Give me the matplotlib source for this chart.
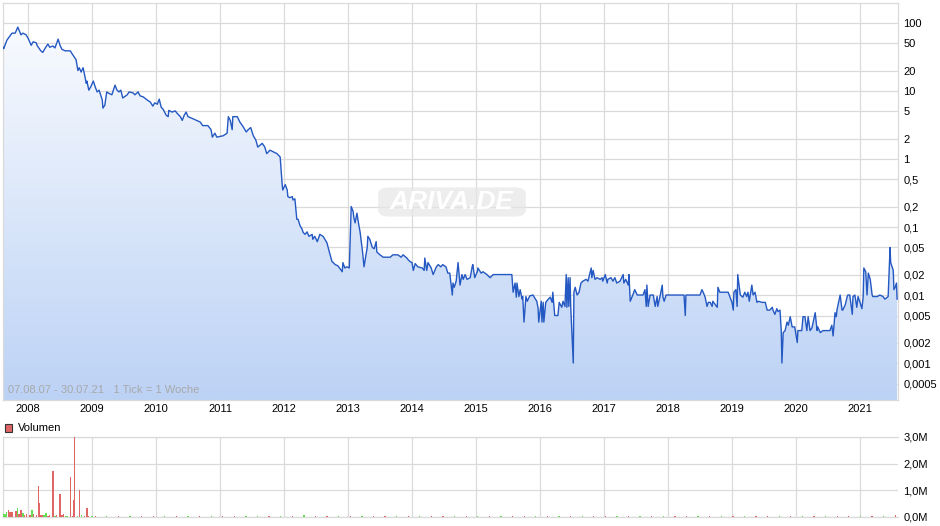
import numpy as np
import matplotlib
matplotlib.use("Agg")
import matplotlib.pyplot as plt
from matplotlib.patches import FancyBboxPatch, Rectangle

plt.rcParams['font.family'] = ['Liberation Sans', 'DejaVu Sans']

# weekly close, dates as decimal years
dates = [
    2007.61, 2007.62, 2007.67, 2007.75, 2007.80, 2007.84, 2007.89, 2007.92, 2007.97, 2008.00,
    2008.05, 2008.08, 2008.13, 2008.14, 2008.20, 2008.23, 2008.27, 2008.31, 2008.34, 2008.39,
    2008.42, 2008.45, 2008.47, 2008.50, 2008.53, 2008.58, 2008.66, 2008.70, 2008.75, 2008.78,
    2008.80, 2008.83, 2008.86, 2008.88, 2008.91, 2008.92, 2008.95, 2008.98, 2009.02, 2009.05,
    2009.08, 2009.11, 2009.16, 2009.17, 2009.20, 2009.23, 2009.25, 2009.31, 2009.36, 2009.39,
    2009.42, 2009.45, 2009.48, 2009.55, 2009.58, 2009.64, 2009.67, 2009.72, 2009.75, 2009.80,
    2009.86, 2009.91, 2009.95, 2009.98, 2010.02, 2010.05, 2010.08, 2010.11, 2010.16, 2010.19,
    2010.20, 2010.25, 2010.30, 2010.33, 2010.38, 2010.41, 2010.44, 2010.47, 2010.50, 2010.58,
    2010.69, 2010.73, 2010.81, 2010.86, 2010.88, 2010.92, 2010.95, 2011.05, 2011.11, 2011.13,
    2011.16, 2011.19, 2011.20, 2011.27, 2011.31, 2011.36, 2011.41, 2011.44, 2011.48, 2011.52,
    2011.56, 2011.59, 2011.66, 2011.70, 2011.73, 2011.78, 2011.89, 2011.94, 2011.97, 2011.98,
    2012.02, 2012.05, 2012.06, 2012.09, 2012.13, 2012.14, 2012.17, 2012.20, 2012.22, 2012.25,
    2012.28, 2012.30, 2012.33, 2012.36, 2012.39, 2012.44, 2012.45, 2012.48, 2012.52, 2012.56,
    2012.61, 2012.67, 2012.70, 2012.75, 2012.77, 2012.80, 2012.84, 2012.91, 2012.92, 2012.95,
    2012.98, 2013.02, 2013.05, 2013.08, 2013.09, 2013.11, 2013.14, 2013.16, 2013.19, 2013.23,
    2013.25, 2013.30, 2013.31, 2013.34, 2013.38, 2013.41, 2013.44, 2013.45, 2013.50, 2013.55,
    2013.66, 2013.70, 2013.78, 2013.83, 2013.86, 2013.92, 2013.94, 2013.97, 2014.00, 2014.02,
    2014.05, 2014.09, 2014.16, 2014.19, 2014.20, 2014.23, 2014.25, 2014.30, 2014.33, 2014.38,
    2014.41, 2014.45, 2014.48, 2014.53, 2014.56, 2014.59, 2014.63, 2014.64, 2014.66, 2014.69,
    2014.72, 2014.75, 2014.78, 2014.80, 2014.83, 2014.86, 2014.91, 2014.94, 2014.95, 2014.98,
    2015.02, 2015.03, 2015.08, 2015.11, 2015.17, 2015.22, 2015.27, 2015.38, 2015.45, 2015.50,
    2015.56, 2015.58, 2015.61, 2015.63, 2015.64, 2015.67, 2015.69, 2015.72, 2015.73, 2015.75,
    2015.78, 2015.80, 2015.84, 2015.89, 2015.95, 2015.97, 2015.98, 2016.02, 2016.03, 2016.05,
    2016.06, 2016.09, 2016.13, 2016.16, 2016.19, 2016.20, 2016.23, 2016.28, 2016.30, 2016.34,
    2016.36, 2016.39, 2016.41, 2016.42, 2016.44, 2016.45, 2016.47, 2016.48, 2016.52, 2016.53,
    2016.55, 2016.58, 2016.61, 2016.64, 2016.67, 2016.72, 2016.75, 2016.80, 2016.81, 2016.83,
    2016.86, 2016.89, 2016.94, 2016.97, 2016.98, 2017.02, 2017.05, 2017.06, 2017.11, 2017.14,
    2017.17, 2017.20, 2017.25, 2017.30, 2017.31, 2017.34, 2017.38, 2017.39, 2017.41, 2017.44,
    2017.45, 2017.48, 2017.52, 2017.61, 2017.64, 2017.66, 2017.67, 2017.69, 2017.72, 2017.77,
    2017.80, 2017.83, 2017.84, 2017.88, 2017.91, 2017.92, 2017.94, 2017.97, 2018.25, 2018.27,
    2018.28, 2018.50, 2018.53, 2018.55, 2018.58, 2018.61, 2018.63, 2018.66, 2018.69, 2018.70,
    2018.77, 2018.78, 2018.81, 2018.86, 2018.92, 2018.94, 2018.97, 2019.00, 2019.02, 2019.03,
    2019.06, 2019.08, 2019.09, 2019.13, 2019.16, 2019.17, 2019.20, 2019.23, 2019.25, 2019.27,
    2019.31, 2019.33, 2019.36, 2019.39, 2019.41, 2019.47, 2019.52, 2019.55, 2019.59, 2019.63,
    2019.64, 2019.67, 2019.70, 2019.72, 2019.75, 2019.77, 2019.78, 2019.80, 2019.83, 2019.86,
    2019.88, 2019.91, 2019.94, 2019.98, 2020.02, 2020.03, 2020.09, 2020.11, 2020.14, 2020.17,
    2020.19, 2020.22, 2020.25, 2020.30, 2020.33, 2020.34, 2020.38, 2020.42, 2020.53, 2020.56,
    2020.58, 2020.61, 2020.63, 2020.64, 2020.69, 2020.72, 2020.73, 2020.77, 2020.80, 2020.81,
    2020.84, 2020.88, 2020.89, 2020.92, 2020.95, 2020.97, 2021.00, 2021.03, 2021.05, 2021.06,
    2021.09, 2021.11, 2021.13, 2021.16, 2021.19, 2021.20, 2021.27, 2021.31, 2021.36, 2021.39,
    2021.44, 2021.47, 2021.48, 2021.52, 2021.53, 2021.55, 2021.57, 2021.58,
]
prices = [
    44, 42, 56, 71, 71, 87, 67, 71, 67, 60,
    47, 53, 51, 47, 39, 37, 43, 49, 44, 46,
    43, 51, 58, 47, 41, 39, 39, 34, 29, 20,
    22, 19, 22, 18, 13, 14, 10.3, 11.5, 14, 11.5,
    9.7, 10.3, 7.4, 5.6, 6.2, 9.7, 9.4, 8.8, 12.2, 10.3,
    9.7, 10.3, 7.9, 8.8, 9.7, 9.4, 8.8, 9.7, 8.5, 8.2,
    7.4, 6.9, 6.0, 6.7, 6.4, 7.6, 5.8, 5.4, 4.4, 4.2,
    5.2, 4.9, 5.1, 4.7, 4.2, 3.7, 4.4, 4.9, 4.2, 3.9,
    3.5, 3.1, 3.1, 2.7, 2.1, 2.4, 2.1, 2.2, 2.4, 4.2,
    3.7, 2.7, 4.2, 4.2, 3.5, 3.0, 2.5, 2.7, 2.9, 2.2,
    1.9, 1.5, 1.7, 1.5, 1.2, 1.35, 1.2, 1.07, 0.44, 0.35,
    0.42, 0.35, 0.28, 0.27, 0.28, 0.25, 0.26, 0.13, 0.13, 0.105,
    0.094, 0.083, 0.078, 0.085, 0.073, 0.078, 0.066, 0.073, 0.061, 0.078,
    0.073, 0.059, 0.046, 0.031, 0.030, 0.028, 0.027, 0.022, 0.030, 0.025,
    0.026, 0.025, 0.2, 0.17, 0.14, 0.115, 0.16, 0.12, 0.083, 0.041,
    0.026, 0.050, 0.073, 0.066, 0.050, 0.048, 0.061, 0.043, 0.039, 0.036,
    0.036, 0.039, 0.039, 0.036, 0.039, 0.035, 0.033, 0.031, 0.030, 0.023,
    0.029, 0.026, 0.025, 0.023, 0.035, 0.023, 0.030, 0.025, 0.020, 0.026,
    0.028, 0.026, 0.028, 0.026, 0.021, 0.021, 0.010, 0.015, 0.013, 0.016,
    0.030, 0.014, 0.020, 0.017, 0.020, 0.017, 0.018, 0.026, 0.028, 0.018,
    0.022, 0.025, 0.021, 0.022, 0.020, 0.018, 0.020, 0.020, 0.020, 0.020,
    0.020, 0.011, 0.015, 0.0093, 0.015, 0.0095, 0.012, 0.0087, 0.0095, 0.0040,
    0.0095, 0.0081, 0.0097, 0.010, 0.0081, 0.0064, 0.0040, 0.0081, 0.0040, 0.0078,
    0.0040, 0.0078, 0.0087, 0.0093, 0.0078, 0.011, 0.005, 0.005, 0.0078, 0.0066,
    0.0081, 0.0068, 0.020, 0.0066, 0.018, 0.0068, 0.018, 0.0068, 0.001, 0.011,
    0.013, 0.010, 0.011, 0.015, 0.016, 0.017, 0.016, 0.025, 0.018, 0.023,
    0.017, 0.018, 0.017, 0.018, 0.016, 0.020, 0.015, 0.017, 0.018, 0.016,
    0.018, 0.015, 0.016, 0.020, 0.015, 0.017, 0.014, 0.020, 0.0081, 0.0095,
    0.010, 0.012, 0.010, 0.010, 0.012, 0.0068, 0.014, 0.0068, 0.010, 0.010,
    0.0068, 0.0095, 0.0068, 0.010, 0.014, 0.0095, 0.0081, 0.010, 0.010, 0.005,
    0.010, 0.010, 0.012, 0.011, 0.0093, 0.0068, 0.0078, 0.0078, 0.0068, 0.0081,
    0.0066, 0.013, 0.011, 0.011, 0.011, 0.011, 0.0093, 0.0078, 0.006, 0.011,
    0.012, 0.0068, 0.020, 0.010, 0.0095, 0.0093, 0.011, 0.0095, 0.011, 0.0081,
    0.014, 0.010, 0.011, 0.0078, 0.0081, 0.0078, 0.0078, 0.006, 0.006, 0.0066,
    0.006, 0.0052, 0.0063, 0.0057, 0.006, 0.0030, 0.001, 0.0028, 0.003, 0.004,
    0.0036, 0.0048, 0.0034, 0.0034, 0.0020, 0.003, 0.003, 0.0048, 0.0048, 0.003,
    0.0048, 0.003, 0.0033, 0.0055, 0.003, 0.0034, 0.0028, 0.003, 0.003, 0.0036,
    0.0025, 0.0055, 0.0048, 0.006, 0.010, 0.006, 0.006, 0.0072, 0.0095, 0.010,
    0.010, 0.0052, 0.0095, 0.010, 0.0066, 0.0095, 0.0078, 0.0063, 0.0095, 0.025,
    0.022, 0.010, 0.021, 0.017, 0.010, 0.0095, 0.0095, 0.010, 0.0095, 0.0087,
    0.0095, 0.050, 0.030, 0.023, 0.012, 0.013, 0.015, 0.0087,
]

# volume (millions), early period read bar by bar, 'r' = down week, 'g' = up week
vol_dates_early = [
    2007.61, 2007.64, 2007.66, 2007.69, 2007.72, 2007.75, 2007.80, 2007.81, 2007.83, 2007.86,
    2007.88, 2007.89, 2007.92, 2007.95, 2007.98, 2008.03, 2008.06, 2008.09, 2008.13, 2008.16,
    2008.17, 2008.20, 2008.22, 2008.25, 2008.28, 2008.31, 2008.34, 2008.39, 2008.42, 2008.45,
    2008.50, 2008.53, 2008.55, 2008.58, 2008.61, 2008.66, 2008.69, 2008.72, 2008.73, 2008.77,
    2008.80, 2008.83, 2008.88, 2008.92, 2008.95, 2009.00,
]
vol_early = [
    0.11, 0.10, 0.19, 0.26, 0.19, 0.19, 0.15, 0.22, 0.34, 0.10,
    0.22, 0.26, 0.15, 0.08, 0.12, 0.08, 0.26, 0.12, 0.08, 1.16,
    0.52, 0.06, 0.08, 0.08, 0.15, 0.05, 0.06, 1.72, 0.05, 0.08,
    0.86, 0.08, 0.12, 0.05, 0.05, 1.50, 0.05, 0.64, 3.00, 0.05,
    1.01, 0.08, 0.05, 0.34, 0.05, 0.05,
]
vol_early_dir = list("gggrrrrrgrrrgrrrgrrrrrrggrrrgrrrrggrrrrgrgrrrg")
vol_late = [
    0.04, 0.03, 0.05, 0.02, 0.04, 0.03, 0.02, 0.05, 0.03, 0.02,
    0.03, 0.04, 0.02, 0.03, 0.05, 0.03, 0.02, 0.04, 0.07, 0.03,
    0.02, 0.03, 0.04, 0.02, 0.03, 0.02, 0.03, 0.04, 0.02, 0.03,
    0.02, 0.03, 0.02, 0.04, 0.02, 0.03, 0.02, 0.03, 0.02, 0.02,
    0.03, 0.02, 0.03, 0.02, 0.04, 0.02, 0.03, 0.02, 0.02, 0.03,
    0.02, 0.03, 0.02, 0.04, 0.02, 0.03, 0.02, 0.02, 0.03, 0.02,
    0.03, 0.02, 0.03, 0.02, 0.02, 0.03, 0.02, 0.04, 0.03, 0.06,
]
vol_late_dir = list("rgrgrrgrgrgrrggrgrgrrgrgrrgrgrrgrgrgrrgrgrgrrgrgrgrrgrgrgrrgrgrgrrgrg")

years = list(range(2008, 2022))
price_ticks = [100, 50, 20, 10, 5, 2, 1, 0.5, 0.2, 0.1, 0.05, 0.02, 0.01,
               0.005, 0.002, 0.001, 0.0005]
price_tick_labels = ["100", "50", "20", "10", "5", "2", "1", "0,5", "0,2", "0,1",
                     "0,05", "0,02", "0,01", "0,005", "0,002", "0,001", "0,0005"]
vol_ticks = [0, 1, 2, 3]
vol_tick_labels = ["0,0M", "1,0M", "2,0M", "3,0M"]

x_min, x_max = 2007.609, 2021.594
y_min, y_max = 0.000286, 197

grid_c = "#dadada"
line_c = "#2458c2"
up_c, down_c = "#66dd55", "#e06666"

fig = plt.figure(figsize=(9.4, 5.26), dpi=100)
ax = fig.add_axes([3 / 940, 1 - 400 / 526, 895 / 940, 397 / 526])
axv = fig.add_axes([3 / 940, 1 - 517 / 526, 895 / 940, 80 / 526])

# price panel
ax.set_yscale("log")
poly = ax.fill_between(dates, prices, y_min / 2, color="none", lw=0)
grad = np.linspace(0, 1, 256)[:, None]
top_rgb = np.array([252, 253, 255]) / 255
bot_rgb = np.array([188, 210, 245]) / 255
img_arr = top_rgb + grad[..., None] * (bot_rgb - top_rgb)
img_arr = np.repeat(img_arr, 2, axis=1)
im = ax.imshow(img_arr, extent=[0, 1, 0, 1], transform=ax.transAxes,
               aspect="auto", origin="upper", zorder=1, interpolation="bilinear")
im.set_clip_path(poly.get_paths()[0], transform=ax.transData)
ax.plot(dates, prices, color=line_c, lw=1.0, zorder=3)

ax.set_xlim(x_min, x_max)
ax.set_ylim(y_min, y_max)
ax.set_yticks(price_ticks)
ax.set_yticklabels(price_tick_labels)
ax.yaxis.set_minor_locator(matplotlib.ticker.NullLocator())
ax.yaxis.tick_right()
ax.set_xticks(years)
ax.set_xticklabels([str(y) for y in years])
ax.tick_params(axis="both", length=0, labelsize=8, colors="black")
ax.tick_params(axis="y", pad=4)
ax.tick_params(axis="x", pad=3)
ax.grid(True, color=grid_c, lw=0.9, zorder=0)
ax.set_axisbelow(True)
for s in ax.spines.values():
    s.set_color(grid_c)
    s.set_linewidth(0.9)

ax.text(0.006, 0.012, "07.08.07 - 30.07.21   1 Tick = 1 Woche", transform=ax.transAxes,
        fontsize=8, color="#a8a8a8", ha="left", va="bottom", zorder=5)

# watermark
wm = FancyBboxPatch((381 / 940, 1 - 215 / 526), 142 / 940, 26 / 526,
                    boxstyle="round,pad=0.003,rounding_size=0.012",
                    transform=fig.transFigure, facecolor="#e6e6e6", edgecolor="none",
                    alpha=0.7, zorder=4)
fig.patches.append(wm)
fig.text(452 / 940, 1 - 202 / 526, "ARIVA.DE", fontsize=19, style="italic",
         fontweight="bold", color="white", ha="center", va="center", zorder=6)

# volume panel
colors_early = [up_c if d == "g" else down_c for d in vol_early_dir]
colors_late = [up_c if d == "g" else down_c for d in vol_late_dir]
late_dates = np.linspace(2009.05, 2021.55, len(vol_late))
axv.bar(vol_dates_early, vol_early, width=0.02, color=colors_early, zorder=3)
axv.bar(late_dates, vol_late, width=0.02, color=colors_late, zorder=3)
axv.set_xlim(x_min, x_max)
axv.set_ylim(0, 3)
axv.set_yticks(vol_ticks)
axv.set_yticklabels(vol_tick_labels)
axv.yaxis.tick_right()
axv.set_xticks(years)
axv.set_xticklabels([])
axv.tick_params(axis="both", length=0, labelsize=8, colors="black")
axv.tick_params(axis="y", pad=4)
axv.grid(True, color=grid_c, lw=0.9, zorder=0)
axv.set_axisbelow(True)
for name, s in axv.spines.items():
    s.set_color(grid_c)
    s.set_linewidth(0.9)
    if name == "right":
        s.set_visible(False)

# legend for volume
fig.patches.append(Rectangle((5 / 940, 1 - 432 / 526), 7 / 940, 8 / 526,
                             transform=fig.transFigure, facecolor=down_c,
                             edgecolor="#333333", lw=0.8))
fig.text(18 / 940, 1 - 428 / 526, "Volumen", fontsize=8, color="black",
         ha="left", va="center")

fig.savefig("out.png", dpi=100)
